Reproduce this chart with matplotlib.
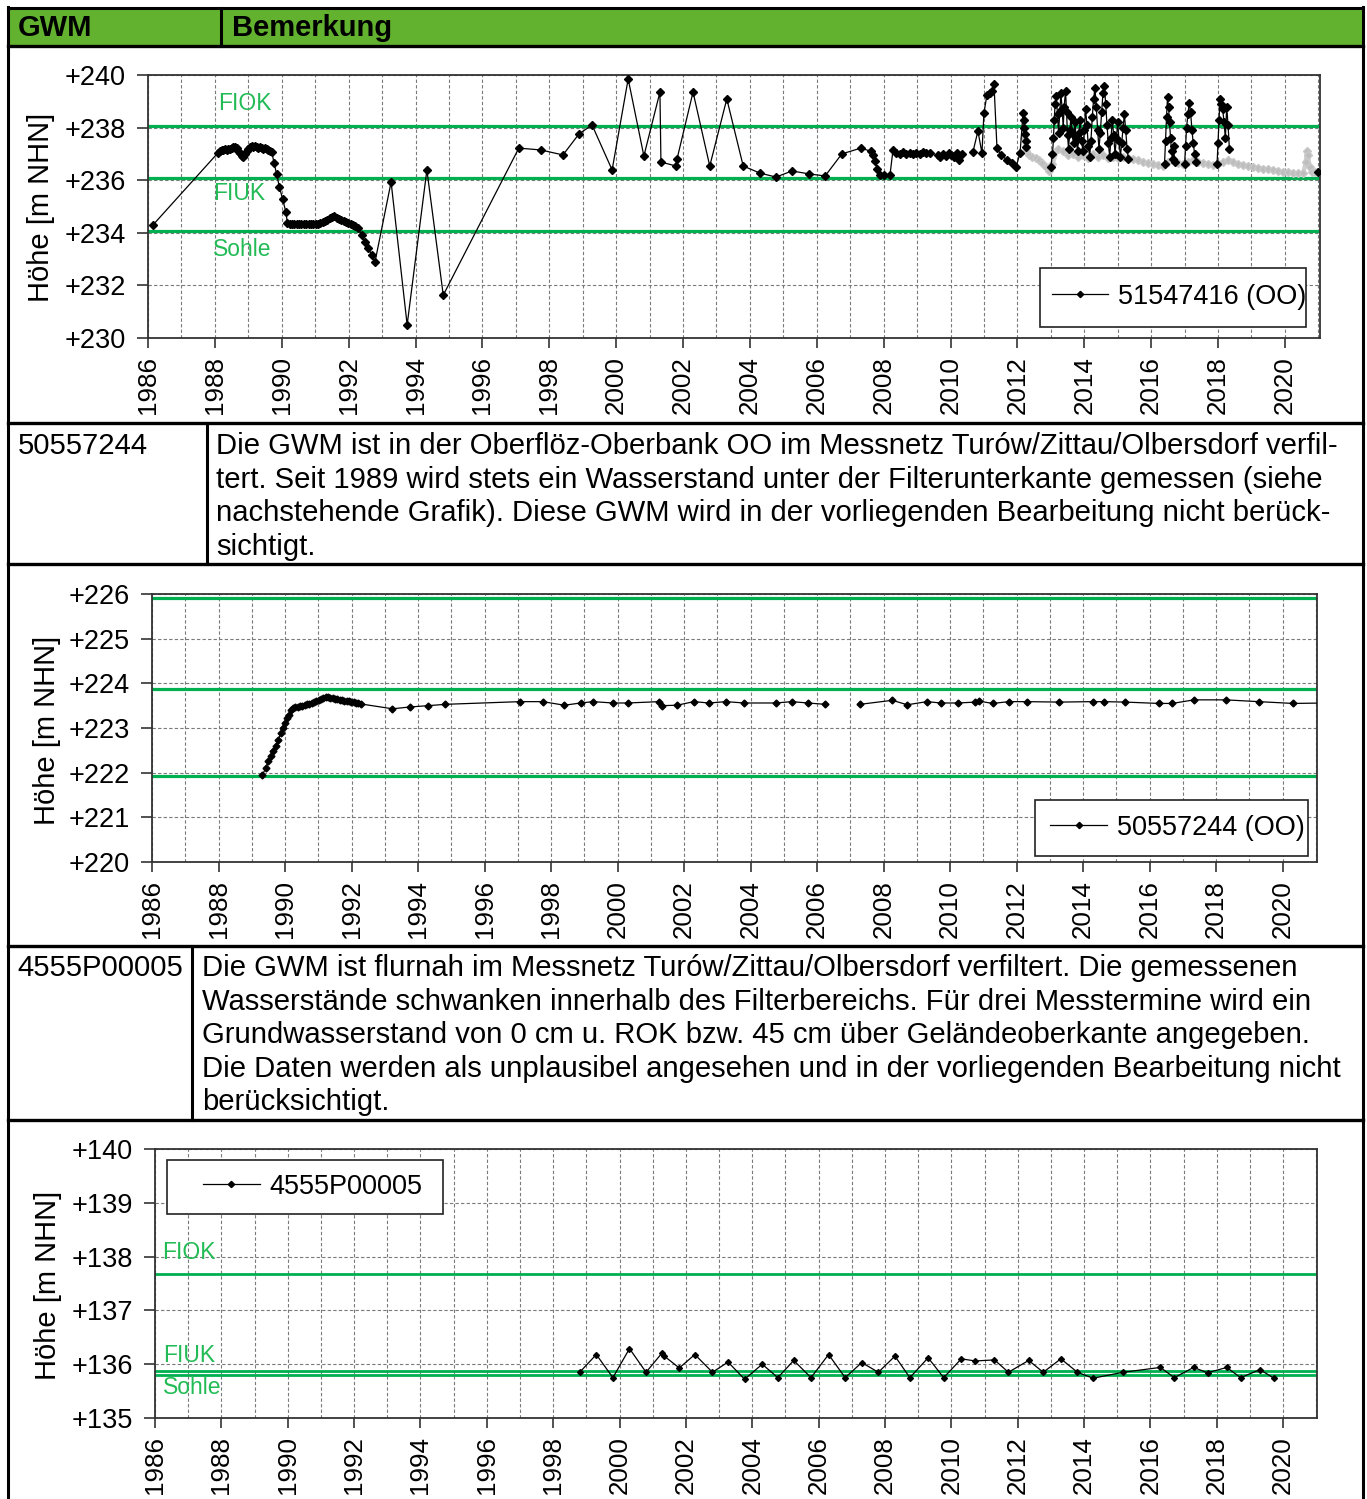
import numpy as np
import matplotlib
matplotlib.use("Agg")
import matplotlib.pyplot as plt
from matplotlib.lines import Line2D
from matplotlib.patches import Rectangle
from matplotlib.ticker import MultipleLocator, FuncFormatter

plt.rcParams['font.family'] = ['Liberation Sans', 'DejaVu Sans']

# ---------------- data ----------------
# GWM 51547416 (OO): manual readings, split where the record has gaps
t1_a = [1986.15, 1988.10, 1988.15, 1988.20, 1988.25, 1988.30, 1988.35, 1988.40, 1988.45, 1988.50,
        1988.55, 1988.60, 1988.65, 1988.70, 1988.75, 1988.80, 1988.85, 1988.90, 1988.95, 1989.00,
        1989.05, 1989.10, 1989.15, 1989.20, 1989.25, 1989.30, 1989.35, 1989.40, 1989.45, 1989.50,
        1989.55, 1989.60, 1989.65, 1989.70,
        1989.77, 1989.85, 1989.93, 1990.03, 1990.12, 1990.17,
        1990.24, 1990.31, 1990.38, 1990.45, 1990.52, 1990.59, 1990.66, 1990.73, 1990.80, 1990.87,
        1990.94, 1991.01, 1991.08, 1991.15, 1991.22, 1991.29,
        1991.36, 1991.43, 1991.50, 1991.57, 1991.64, 1991.71, 1991.78, 1991.85, 1991.92, 1991.99,
        1992.06, 1992.13, 1992.20, 1992.28,
        1992.39, 1992.49, 1992.59, 1992.69, 1992.79,
        1993.27, 1993.75, 1994.34, 1994.83,
        1997.09, 1997.75, 1998.41, 1998.89, 1999.28, 1999.88, 2000.36, 2000.83, 2001.31, 2001.34,
        2001.79, 2001.82, 2002.30, 2002.80, 2003.31, 2003.80, 2004.30, 2004.78, 2005.26, 2005.77,
        2006.25, 2006.75, 2007.32, 2007.62, 2007.68, 2007.74, 2007.80, 2007.89, 2008.00, 2008.19,
        2008.28, 2008.38, 2008.48, 2008.58, 2008.68, 2008.78, 2008.88, 2008.98, 2009.08, 2009.18,
        2009.28, 2009.38]
h1_a = [234.30, 237.05, 237.12, 237.15, 237.15, 237.18, 237.15, 237.20, 237.18, 237.22,
        237.25, 237.25, 237.22, 237.12, 237.02, 236.92, 236.88, 236.98, 237.10, 237.20,
        237.28, 237.30, 237.28, 237.30, 237.26, 237.22, 237.25, 237.22, 237.20, 237.22,
        237.18, 237.15, 237.12, 237.08,
        236.65, 236.22, 235.73, 235.27, 234.80, 234.38,
        234.35, 234.33, 234.33, 234.35, 234.33, 234.33, 234.35, 234.33, 234.33, 234.35,
        234.33, 234.35, 234.35, 234.38, 234.40, 234.45,
        234.50, 234.55, 234.60, 234.62, 234.58, 234.52, 234.48, 234.45, 234.40, 234.36,
        234.32, 234.28, 234.24, 234.18,
        233.92, 233.66, 233.41, 233.16, 232.90,
        235.93, 230.50, 236.39, 231.63,
        237.22, 237.15, 236.96, 237.76, 238.10, 236.39, 239.85, 236.92, 239.35, 236.69,
        236.54, 236.80, 239.35, 236.54, 239.09, 236.54, 236.27, 236.12, 236.35, 236.24,
        236.16, 237.00, 237.22, 237.10, 236.96, 236.73, 236.43, 236.20, 236.20, 236.20,
        237.15, 237.05, 236.98, 237.08, 237.00, 237.05, 236.98, 237.05, 237.00, 237.08,
        237.02, 237.05]
t1_b = [2009.62, 2009.70, 2009.78, 2009.86, 2009.94, 2010.02, 2010.10, 2010.18, 2010.26, 2010.34]
h1_b = [236.95, 236.88, 237.00, 236.92, 237.02, 236.95, 236.90, 237.05, 236.75, 237.00]
t1_c = [2010.67, 2010.82, 2010.94, 2011.00, 2011.09, 2011.17, 2011.24, 2011.30, 2011.39, 2011.51,
        2011.69, 2011.84, 2011.96, 2012.08, 2012.17, 2012.19, 2012.21, 2012.23, 2012.25, 2012.27]
h1_c = [237.07, 237.87, 237.03, 238.56, 239.24, 239.30, 239.39, 239.66, 237.22, 236.96,
        236.77, 236.65, 236.50, 237.03, 238.56, 238.30, 238.00, 237.75, 237.50, 237.25]
t1_d = [2013.00, 2013.05, 2013.08, 2013.10, 2013.13, 2013.16, 2013.20, 2013.23, 2013.27, 2013.30,
        2013.34, 2013.37, 2013.40, 2013.44, 2013.47, 2013.50, 2013.53, 2013.57, 2013.60, 2013.64,
        2013.68, 2013.72, 2013.76, 2013.80, 2013.84, 2013.88, 2013.92, 2013.96, 2014.00, 2014.04,
        2014.08, 2014.12, 2014.16, 2014.20, 2014.24, 2014.28, 2014.32, 2014.36, 2014.40, 2014.44,
        2014.48, 2014.52, 2014.56, 2014.60, 2014.64, 2014.68, 2014.72, 2014.76, 2014.80, 2014.84,
        2014.88, 2014.92, 2014.96, 2015.00, 2015.04, 2015.08, 2015.12, 2015.16, 2015.20, 2015.24,
        2015.28, 2015.32]
h1_d = [236.50, 237.00, 237.60, 238.30, 238.90, 239.20, 238.50, 237.80, 238.60, 239.30,
        238.70, 238.00, 238.80, 239.40, 238.60, 237.70, 237.20, 237.90, 238.40, 237.80,
        237.40, 238.20, 237.60, 237.10, 237.80, 238.30, 237.50, 237.10, 237.90, 238.70,
        238.10, 237.30, 236.90, 237.50, 238.40, 239.10, 239.50, 238.80, 237.90, 237.20,
        237.80, 238.60, 239.30, 239.60, 238.90, 238.10, 237.40, 236.90, 237.60, 238.30,
        237.70, 237.00, 237.60, 238.20, 237.50, 236.90, 237.40, 238.00, 238.50, 237.90,
        237.20, 236.80]
t1_e = [2016.40, 2016.43, 2016.46, 2016.49, 2016.52, 2016.55, 2016.58, 2016.61, 2016.64, 2016.67, 2016.70]
h1_e = [236.60, 237.50, 238.40, 239.15, 238.80, 238.20, 237.60, 237.10, 236.80, 237.30, 236.70]
t1_f = [2017.00, 2017.03, 2017.06, 2017.10, 2017.14, 2017.18, 2017.22, 2017.26, 2017.30, 2017.34]
h1_f = [236.60, 237.30, 238.00, 238.50, 238.95, 238.60, 237.90, 237.40, 237.00, 236.70]
t1_g = [2017.97, 2018.00, 2018.03, 2018.06, 2018.10, 2018.14, 2018.18, 2018.22, 2018.26, 2018.30, 2018.34]
h1_g = [236.60, 237.40, 238.30, 239.10, 238.90, 238.70, 238.20, 237.60, 238.80, 238.10, 237.20]
t1_h = [2020.98]
h1_h = [236.30]

# 51547416: data logger record (drawn in grey)
t1_log = [2012.20, 2012.25, 2012.35, 2012.45, 2012.55, 2012.65, 2012.75, 2012.85, 2012.95, 2013.05,
          2013.20, 2013.35, 2013.50, 2013.65, 2013.80, 2013.95, 2014.10, 2014.25, 2014.40, 2014.55,
          2014.70, 2014.85, 2015.00, 2015.15, 2015.30, 2015.45, 2015.60, 2015.75, 2015.90, 2016.05,
          2016.20, 2016.35, 2016.50, 2016.65, 2016.80, 2016.95, 2017.10, 2017.25, 2017.40, 2017.55,
          2017.70, 2017.85, 2018.00, 2018.15, 2018.30, 2018.45, 2018.60, 2018.75, 2018.90, 2019.05,
          2019.20, 2019.35, 2019.50, 2019.65, 2019.80, 2019.95, 2020.10, 2020.25, 2020.40, 2020.55,
          2020.62, 2020.66, 2020.70, 2020.74, 2020.80, 2020.90, 2021.00]
h1_log = [237.60, 237.10, 236.95, 236.90, 236.85, 236.75, 236.65, 236.50, 236.35, 236.60,
          237.20, 237.10, 236.95, 237.00, 236.90, 236.95, 236.85, 237.00, 236.90, 236.95,
          236.85, 236.90, 236.85, 236.90, 236.85, 236.80, 236.75, 236.70, 236.65, 236.62,
          236.58, 236.55, 236.70, 236.75, 236.65, 236.60, 236.70, 236.75, 236.70, 236.65,
          236.62, 236.58, 236.60, 236.70, 236.75, 236.68, 236.62, 236.58, 236.55, 236.50,
          236.47, 236.44, 236.41, 236.38, 236.35, 236.32, 236.30, 236.28, 236.27, 236.26,
          236.70, 237.10, 236.95, 236.50, 236.32, 236.30, 236.30]
levels1 = {"FIOK": 238.05, "FIUK": 236.08, "Sohle": 234.05}

# GWM 50557244 (OO)
t2_a = [1989.32, 1989.42, 1989.50, 1989.57, 1989.64, 1989.72, 1989.80, 1989.87, 1989.94, 1990.00,
        1990.07, 1990.12,
        1990.17, 1990.24, 1990.31, 1990.38, 1990.45, 1990.52, 1990.59, 1990.66, 1990.73, 1990.80,
        1990.87, 1990.94, 1991.01, 1991.08, 1991.15, 1991.22, 1991.29, 1991.36, 1991.43, 1991.50,
        1991.57, 1991.64, 1991.71, 1991.78, 1991.85, 1991.92, 1991.99, 1992.06, 1992.13, 1992.20,
        1992.27,
        1993.23, 1993.75, 1994.30, 1994.82,
        1997.06, 1997.75, 1998.40, 1998.89, 1999.26, 1999.86, 2000.30,
        2001.25, 2001.33, 2001.79, 2002.29, 2002.75, 2003.26, 2003.80,
        2004.75, 2005.24, 2005.72, 2006.24]
h2_a = [221.94, 222.11, 222.26, 222.37, 222.48, 222.59, 222.74, 222.89, 223.00, 223.11,
        223.22, 223.30,
        223.41, 223.44, 223.46, 223.47, 223.49, 223.50, 223.51, 223.53, 223.54, 223.56,
        223.58, 223.60, 223.63, 223.66, 223.68, 223.70, 223.69, 223.68, 223.67, 223.66,
        223.64, 223.63, 223.62, 223.61, 223.60, 223.60, 223.59, 223.58, 223.57, 223.56,
        223.54,
        223.43, 223.47, 223.50, 223.53,
        223.59, 223.59, 223.51, 223.56, 223.59, 223.56, 223.56,
        223.59, 223.50, 223.51, 223.59, 223.56, 223.59, 223.56,
        223.56, 223.59, 223.56, 223.53]
t2_b = [2007.29, 2008.26, 2008.71, 2009.30, 2009.72, 2010.24, 2010.76, 2010.88, 2011.28, 2011.76,
        2012.30, 2013.28, 2014.28, 2014.63, 2015.26, 2016.28, 2016.68, 2017.33, 2018.28, 2019.28,
        2020.31, 2021.30]
h2_b = [223.53, 223.62, 223.52, 223.59, 223.56, 223.56, 223.58, 223.60, 223.55, 223.59,
        223.59, 223.58, 223.59, 223.59, 223.58, 223.55, 223.55, 223.63, 223.63, 223.59,
        223.55, 223.56]
levels2 = [225.92, 223.88, 221.92]

# GWM 4555P00005
t3 = [1998.80, 1999.30, 1999.80, 2000.30, 2000.80, 2001.27, 2001.35, 2001.80, 2002.27, 2002.80,
      2003.27, 2003.77, 2004.30, 2004.77, 2005.25, 2005.77, 2006.30, 2006.80, 2007.30, 2007.80,
      2008.30, 2008.75, 2009.30, 2009.77, 2010.30, 2010.72, 2011.30, 2011.72, 2012.33, 2012.77,
      2013.30, 2013.80, 2014.27, 2015.18, 2016.30, 2016.72, 2017.30, 2017.72, 2018.30, 2018.72,
      2019.30, 2019.72]
h3 = [135.85, 136.18, 135.75, 136.29, 135.85, 136.20, 136.15, 135.93, 136.18, 135.85,
      136.04, 135.72, 136.00, 135.75, 136.07, 135.75, 136.18, 135.75, 136.03, 135.85,
      136.15, 135.75, 136.12, 135.75, 136.10, 136.06, 136.08, 135.85, 136.07, 135.85,
      136.10, 135.85, 135.74, 135.85, 135.94, 135.75, 135.94, 135.84, 135.94, 135.75,
      135.90, 135.74]
levels3 = {"FIOK": 137.68, "FIUK": 135.88, "Sohle": 135.80}

text_2 = ["Die GWM ist in der Oberflöz-Oberbank OO im Messnetz Turów/Zittau/Olbersdorf verfil-",
          "tert. Seit 1989 wird stets ein Wasserstand unter der Filterunterkante gemessen (siehe",
          "nachstehende Grafik). Diese GWM wird in der vorliegenden Bearbeitung nicht berück-",
          "sichtigt."]
text_4 = ["Die GWM ist flurnah im Messnetz Turów/Zittau/Olbersdorf verfiltert. Die gemessenen",
          "Wasserstände schwanken innerhalb des Filterbereichs. Für drei Messtermine wird ein",
          "Grundwasserstand von 0 cm u. ROK bzw. 45 cm über Geländeoberkante angegeben.",
          "Die Daten werden als unplausibel angesehen und in der vorliegenden Bearbeitung nicht",
          "berücksichtigt."]

# ---------------- layout helpers (pixel based) ----------------
W, H = 1367, 1499
fig = plt.figure(figsize=(W / 100, H / 100), dpi=100)
fig.patch.set_facecolor("white")

def fx(px):
    return px / W

def fy(py):
    return 1 - py / H

def add_axes_px(left, top, right, bottom):
    return fig.add_axes([fx(left), fy(bottom), (right - left) / W, (bottom - top) / H])

def hline(y, x0=8, x1=1363, lw=2.2):
    fig.add_artist(Line2D([fx(x0), fx(x1)], [fy(y), fy(y)], color="black", lw=lw,
                          transform=fig.transFigure))

def vline(x, y0, y1, lw=2.2):
    fig.add_artist(Line2D([fx(x), fx(x)], [fy(y0), fy(y1)], color="black", lw=lw,
                          transform=fig.transFigure))

GREEN = "#00B050"
LABEL_GREEN = "#22BB55"
GRID = "#7a7a7a"
TXT = 21.1

def style_axes(ax, ylo, yhi, ystep, xmax):
    ax.set_xlim(1986, xmax)
    ax.set_ylim(ylo, yhi)
    ax.xaxis.set_major_locator(MultipleLocator(2))
    ax.xaxis.set_minor_locator(MultipleLocator(1))
    ax.yaxis.set_major_locator(MultipleLocator(ystep))
    ax.xaxis.set_major_formatter(FuncFormatter(lambda v, p: f"{v:.0f}"))
    ax.yaxis.set_major_formatter(FuncFormatter(lambda v, p: f"+{v:.0f}"))
    ax.set_axisbelow(True)
    ax.grid(True, which="both", axis="x", color=GRID, ls=(0, (3, 2)), lw=0.8)
    ax.grid(True, which="major", axis="y", color=GRID, ls=(0, (3, 2)), lw=0.8)
    ax.tick_params(axis="x", which="major", labelrotation=90, labelsize=18.7,
                   length=7, width=1.2, pad=6, color="#333333")
    ax.tick_params(axis="x", which="minor", length=0)
    ax.tick_params(axis="y", labelsize=19.5, length=8, width=1.2, pad=8, color="#333333")
    for s in ax.spines.values():
        s.set_color("#333333")
        s.set_linewidth(1.3)

def series(ax, t, h, ms=3.8, zorder=4):
    ax.plot(t, h, color="black", lw=0.9, marker="D", ms=ms, mfc="black", mec="black",
            zorder=zorder)

def legend_box(ax, label, box, anchor):
    x0, y0, x1, y1 = box
    ax.add_patch(Rectangle((x0, y0), x1 - x0, y1 - y0, transform=ax.transAxes,
                           facecolor="white", edgecolor="#222222", lw=1.2, zorder=6))
    handle = Line2D([], [], color="black", lw=0.9, marker="D", ms=3.2)
    leg = ax.legend([handle], [label], loc="center left", bbox_to_anchor=anchor,
                    frameon=False, fontsize=19.5, handlelength=2.1, handletextpad=0.35,
                    borderpad=0, borderaxespad=0)
    leg.set_zorder(7)

def ylabel(x, y):
    fig.text(fx(x), fy(y), "Höhe [m NHN]", rotation=90, ha="center", va="center", fontsize=21)

# ---------------- table frame ----------------
fig.add_artist(Rectangle((fx(8), fy(46)), fx(1363) - fx(8), fy(8) - fy(46),
                         transform=fig.transFigure, facecolor="#62B22F", edgecolor="none"))
hline(8)
for y in (46, 423, 564, 946, 1120):
    hline(y, lw=2.4)
vline(8, 7, H + 2)
vline(1363, 7, H + 2)
vline(220.5, 8, 46)
vline(207, 423, 564)
vline(192, 946, 1120)

fig.text(fx(18), fy(28), "GWM", fontsize=21, fontweight="bold", ha="left", va="center")
fig.text(fx(232), fy(28), "Bemerkung", fontsize=21, fontweight="bold", ha="left", va="center")

fig.text(fx(18), fy(446), "50557244", fontsize=TXT, ha="left", va="center")
for i, line in enumerate(text_2):
    fig.text(fx(216), fy(446 + 33.7 * i), line, fontsize=TXT, ha="left", va="center")

fig.text(fx(17), fy(968), "4555P00005", fontsize=TXT, ha="left", va="center")
for i, line in enumerate(text_4):
    fig.text(fx(202), fy(968 + 33.6 * i), line, fontsize=TXT, ha="left", va="center")

# ---------------- chart 1: 51547416 ----------------
ax1 = add_axes_px(148, 75, 1320, 338)
style_axes(ax1, 230, 240, 2, 2021.05)
for lv in levels1.values():
    ax1.axhline(lv, color=GREEN, lw=2.3, zorder=2)
ax1.text(1988.09, 238.9, "FIOK", color=LABEL_GREEN, fontsize=16.5, ha="left", va="center")
ax1.text(1987.94, 235.48, "FIUK", color=LABEL_GREEN, fontsize=16.5, ha="left", va="center")
ax1.text(1987.94, 233.35, "Sohle", color=LABEL_GREEN, fontsize=16.5, ha="left", va="center")
ax1.plot(t1_log, h1_log, color="#cfcfcf", lw=3.0, marker="D", ms=4.5, mfc="#bdbdbd",
         mec="#c8c8c8", zorder=3)
for t, h in [(t1_a, h1_a), (t1_b, h1_b), (t1_c, h1_c), (t1_d, h1_d),
             (t1_e, h1_e), (t1_f, h1_f), (t1_g, h1_g), (t1_h, h1_h)]:
    series(ax1, t, h)
legend_box(ax1, "51547416 (OO)", (0.761, 0.042, 0.988, 0.266), (0.771, 0.156))
ylabel(41, 207)

# ---------------- chart 2: 50557244 ----------------
ax2 = add_axes_px(152, 594, 1317, 862)
style_axes(ax2, 220, 226, 1, 2021.03)
for lv in levels2:
    ax2.axhline(lv, color=GREEN, lw=2.3, zorder=2)
series(ax2, t2_a, h2_a, ms=3.5)
series(ax2, t2_b, h2_b, ms=3.5)
legend_box(ax2, "50557244 (OO)", (0.758, 0.022, 0.992, 0.231), (0.771, 0.127))
ylabel(47, 730)

# ---------------- chart 3: 4555P00005 ----------------
ax3 = add_axes_px(155, 1149, 1317, 1418)
style_axes(ax3, 135, 140, 1, 2021.02)
for lv in levels3.values():
    ax3.axhline(lv, color=GREEN, lw=2.0, zorder=2)
ax3.text(1986.2, 138.07, "FIOK", color=LABEL_GREEN, fontsize=16.5, ha="left", va="center")
ax3.text(1986.23, 136.17, "FIUK", color=LABEL_GREEN, fontsize=16.5, ha="left", va="center")
ax3.text(1986.23, 135.56, "Sohle", color=LABEL_GREEN, fontsize=16.5, ha="left", va="center")
series(ax3, t3, h3, ms=3.0)
legend_box(ax3, "4555P00005", (0.0103, 0.758, 0.248, 0.959), (0.0413, 0.859))
ylabel(48, 1285)

fig.savefig("out.png", dpi=100)
